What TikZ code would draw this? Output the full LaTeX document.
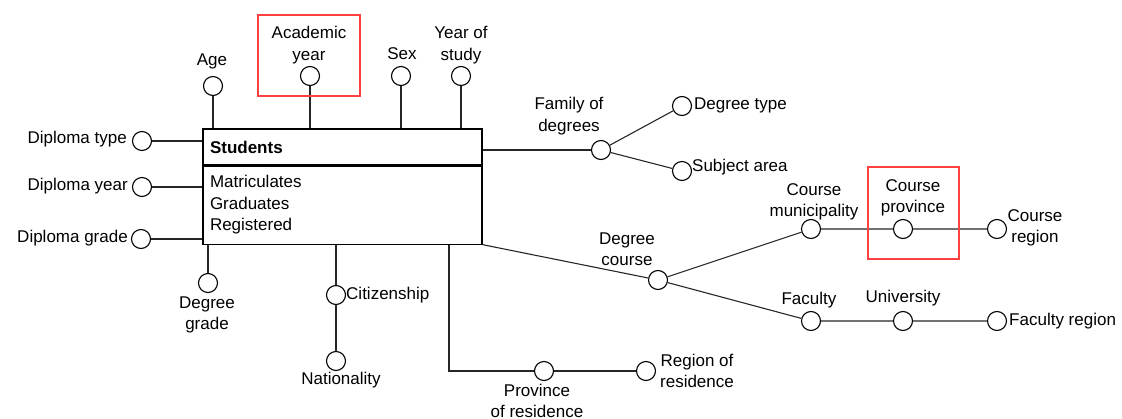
\documentclass[tikz,border=0pt]{standalone}
\usepackage{fontspec}
\setmainfont{Liberation Sans}
\usepackage{tikz}
\usetikzlibrary{positioning}

\begin{document}
\begin{tikzpicture}[x=1pt,y=-1pt,font=\fontsize{17pt}{21.5pt}\selectfont]
  \tikzstyle{attr} = [circle, draw, line width=1.1pt, fill=white, minimum size=19pt, inner sep=0pt]
  \tikzstyle{txt} = [inner sep=0pt, align=center]
  \tikzstyle{box} = [rectangle, draw, line width=1.1pt, minimum width=279pt, text width=265pt, align=left, inner xsep=7pt]
  \tikzstyle{link} = [line width=1.1pt, black!85]
  \tikzstyle{hilite} = [draw=red!75, line width=1.1pt]
  \useasboundingbox (0,0) rectangle (1122,419);

  % the fact
  \node (fact) [box, minimum height=36pt] at (342.5,147) {\textbf{Students}};
  \node (measures) [box, minimum height=78pt, below=0pt of fact] {Matriculates\\Graduates\\Registered};

  % attributes above the fact
  \node (age) [attr] at (213,86) {};
  \node (acyear) [attr] at (310,76) {};
  \node (sex) [attr] at (401,76) {};
  \node (yos) [attr] at (461,76) {};
  \node (t-age) [txt] at (212,61) {Age};
  \node (t-acyear) [txt] at (309,45) {Academic\\year};
  \node (t-sex) [txt] at (402,54) {Sex};
  \node (t-yos) [txt] at (461,45) {Year of\\study};

  % attributes left of the fact
  \node (dtype) [attr] at (142,141) {};
  \node (dyear) [attr] at (142,187) {};
  \node (dgrade) [attr] at (141,239) {};
  \node (t-dtype) [txt, anchor=east] at (127,139) {Diploma type};
  \node (t-dyear) [txt, anchor=east] at (128,186) {Diploma year};
  \node (t-dgrade) [txt, anchor=east] at (128,238) {Diploma grade};

  % attributes below the fact
  \node (grade) [attr] at (208,283) {};
  \node (citiz) [attr] at (336,295) {};
  \node (nation) [attr] at (336,361) {};
  \node (prov) [attr] at (544,371) {};
  \node (regres) [attr] at (646,371) {};
  \coordinate (corner) at (449,371);
  \node (t-grade) [txt] at (207,315) {Degree\\grade};
  \node (t-citiz) [txt, anchor=west] at (346,295) {Citizenship};
  \node (t-nation) [txt] at (341,380) {Nationality};
  \node (t-prov) [txt] at (537,401) {Province\\of residence};
  \node (t-regres) [txt] at (697,371) {Region of\\residence};

  % degree hierarchies
  \node (family) [attr] at (601,150) {};
  \node (degtype) [attr] at (682,106) {};
  \node (subj) [attr] at (682,171) {};
  \node (course) [attr] at (658,280) {};
  \node (cmun) [attr] at (811,229) {};
  \node (cprov) [attr] at (903,229) {};
  \node (creg) [attr] at (997,229) {};
  \node (faculty) [attr] at (811,321) {};
  \node (univ) [attr] at (903,321) {};
  \node (freg) [attr] at (997,321) {};
  \node (t-family) [txt] at (569,116) {Family of\\degrees};
  \node (t-degtype) [txt, anchor=west] at (694,105) {Degree type};
  \node (t-subj) [txt, anchor=west] at (692,167) {Subject area};
  \node (t-course) [txt] at (627,249) {Degree\\course};
  \node (t-cmun) [txt] at (814,202) {Course\\municipality};
  \node (t-cprov) [txt] at (913,198) {Course\\province};
  \node (t-creg) [txt] at (1035,228) {Course\\region};
  \node (t-faculty) [txt] at (809,300) {Faculty};
  \node (t-univ) [txt] at (903,298) {University};
  \node (t-freg) [txt, anchor=west] at (1009,321) {Faculty region};

  \draw [link] (age) -- (age |- fact.north);
  \draw [link] (acyear) -- (acyear |- fact.north);
  \draw [link] (sex) -- (sex |- fact.north);
  \draw [link] (yos) -- (yos |- fact.north);
  \draw [link] (dtype) -- (dtype -| fact.west);
  \draw [link] (dyear) -- (dyear -| measures.west);
  \draw [link] (dgrade) -- (dgrade -| measures.west);
  \draw [link] (grade) -- (grade |- measures.south);
  \draw [link] (citiz |- measures.south) -- (citiz) -- (nation);
  \draw [link] (corner |- measures.south) -- (corner) -- (prov) -- (regres);
  \draw [link] (family -| fact.east) -- (family);
  \draw [link] (family) -- (degtype);
  \draw [link] (family) -- (subj);
  \draw [link] (measures.south east) -- (course);
  \draw [link] (course) -- (cmun) -- (cprov) -- (creg);
  \draw [link] (course) -- (faculty) -- (univ) -- (freg);

  % highlighted attributes
  \draw [hilite] (258,15) rectangle (360,96);
  \draw [hilite] (868,167) rectangle (959,259);
\end{tikzpicture}
\end{document}
